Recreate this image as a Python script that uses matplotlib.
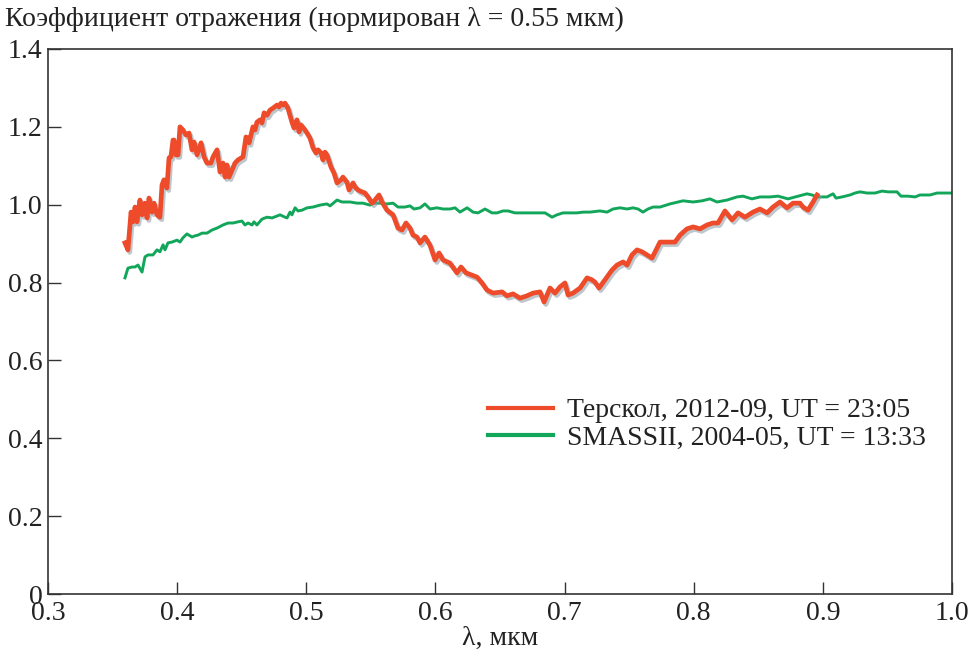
import matplotlib
matplotlib.use("Agg")
import matplotlib.pyplot as plt
import matplotlib.patheffects as pe

# Terskol 2012-09 spectrum (wavelength, reflectance)
terskol_x = [0.3596, 0.3619, 0.3643, 0.3658, 0.3674, 0.3689, 0.3712, 0.3728, 0.3751, 0.3767,
             0.3782, 0.3805, 0.3821, 0.3844, 0.3867, 0.3883, 0.3898, 0.3921, 0.3937, 0.3952,
             0.3968, 0.3976, 0.3991, 0.4007, 0.4022, 0.4045, 0.4069, 0.4092, 0.4115, 0.4131,
             0.4154, 0.4185, 0.4208, 0.4231, 0.4262, 0.4278, 0.4309, 0.4332, 0.4355, 0.4371,
             0.4386, 0.4402, 0.4425, 0.4448, 0.4471, 0.4510, 0.4533, 0.4549, 0.4557, 0.4587,
             0.4603, 0.4618, 0.4642, 0.4657, 0.4673, 0.4696, 0.4719, 0.4742, 0.4773, 0.4789,
             0.4804, 0.4820, 0.4835, 0.4858, 0.4889, 0.4905, 0.4928, 0.4944, 0.4959, 0.4990,
             0.5006, 0.5029, 0.5052, 0.5075, 0.5091, 0.5114, 0.5129, 0.5145, 0.5160, 0.5191,
             0.5215, 0.5238, 0.5269, 0.5284, 0.5315, 0.5331, 0.5362, 0.5377, 0.5400, 0.5431,
             0.5455, 0.5478, 0.5509, 0.5532, 0.5563, 0.5586, 0.5625, 0.5672, 0.5710, 0.5741,
             0.5772, 0.5803, 0.5826, 0.5857, 0.5881, 0.5919, 0.5958, 0.5997, 0.6028, 0.6059,
             0.6113, 0.6167, 0.6198, 0.6237, 0.6283, 0.6322, 0.6361, 0.6399, 0.6446, 0.6516,
             0.6554, 0.6601, 0.6655, 0.6709, 0.6756, 0.6810, 0.6841, 0.6887, 0.6926, 0.6965,
             0.7003, 0.7027, 0.7065, 0.7120, 0.7174, 0.7212, 0.7236, 0.7267, 0.7313, 0.7367,
             0.7406, 0.7453, 0.7484, 0.7522, 0.7561, 0.7600, 0.7638, 0.7677, 0.7739, 0.7793,
             0.7855, 0.7894, 0.7948, 0.7995, 0.8049, 0.8103, 0.8149, 0.8188, 0.8242, 0.8297,
             0.8343, 0.8397, 0.8459, 0.8513, 0.8568, 0.8614, 0.8668, 0.8722, 0.8769, 0.8823,
             0.8846, 0.8885, 0.8924, 0.8955]
terskol_y = [0.902, 0.884, 0.981, 0.956, 0.994, 0.956, 1.012, 0.974, 1.004, 0.966,
             1.017, 0.981, 1.004, 0.974, 0.968, 1.051, 1.064, 1.043, 1.120, 1.123,
             1.166, 1.166, 1.128, 1.128, 1.200, 1.192, 1.179, 1.184, 1.141, 1.161,
             1.128, 1.159, 1.123, 1.107, 1.107, 1.123, 1.141, 1.084, 1.107, 1.071,
             1.102, 1.071, 1.089, 1.107, 1.115, 1.123, 1.174, 1.171, 1.159, 1.200,
             1.192, 1.212, 1.218, 1.210, 1.236, 1.230, 1.243, 1.248, 1.256, 1.251,
             1.261, 1.256, 1.261, 1.248, 1.212, 1.197, 1.218, 1.187, 1.205, 1.192,
             1.184, 1.171, 1.146, 1.133, 1.141, 1.133, 1.115, 1.135, 1.128, 1.097,
             1.081, 1.056, 1.064, 1.071, 1.058, 1.038, 1.056, 1.046, 1.038, 1.033,
             1.030, 1.020, 1.004, 1.012, 1.025, 1.007, 0.986, 0.974, 0.940, 0.935,
             0.953, 0.940, 0.922, 0.917, 0.902, 0.917, 0.896, 0.858, 0.876, 0.858,
             0.850, 0.825, 0.840, 0.825, 0.819, 0.814, 0.799, 0.781, 0.773, 0.776,
             0.766, 0.771, 0.760, 0.766, 0.773, 0.776, 0.750, 0.786, 0.773, 0.789,
             0.799, 0.768, 0.773, 0.786, 0.812, 0.807, 0.801, 0.786, 0.807, 0.832,
             0.845, 0.853, 0.845, 0.871, 0.884, 0.879, 0.871, 0.863, 0.904, 0.904,
             0.904, 0.922, 0.938, 0.943, 0.938, 0.948, 0.953, 0.953, 0.984, 0.961,
             0.979, 0.968, 0.981, 0.989, 0.979, 0.994, 1.007, 0.992, 1.004, 1.004,
             0.994, 0.986, 1.007, 1.025]

# SMASSII 2004-05 spectrum
smass_x = [0.3596, 0.3619, 0.3650, 0.3674, 0.3697, 0.3728, 0.3751, 0.3774, 0.3813, 0.3844,
           0.3867, 0.3891, 0.3906, 0.3929, 0.3960, 0.3999, 0.4022, 0.4045, 0.4076, 0.4115,
           0.4138, 0.4162, 0.4193, 0.4231, 0.4270, 0.4309, 0.4355, 0.4394, 0.4433, 0.4471,
           0.4502, 0.4525, 0.4549, 0.4580, 0.4595, 0.4618, 0.4657, 0.4696, 0.4735, 0.4773,
           0.4797, 0.4835, 0.4851, 0.4874, 0.4889, 0.4913, 0.4936, 0.4967, 0.5006, 0.5052,
           0.5106, 0.5160, 0.5184, 0.5238, 0.5277, 0.5339, 0.5393, 0.5439, 0.5493, 0.5517,
           0.5571, 0.5625, 0.5672, 0.5710, 0.5764, 0.5803, 0.5834, 0.5881, 0.5919, 0.5958,
           0.6012, 0.6059, 0.6113, 0.6152, 0.6190, 0.6245, 0.6291, 0.6330, 0.6384, 0.6438,
           0.6477, 0.6523, 0.6562, 0.6616, 0.6655, 0.6709, 0.6756, 0.6810, 0.6849, 0.6903,
           0.6941, 0.6988, 0.7042, 0.7096, 0.7143, 0.7197, 0.7274, 0.7329, 0.7375, 0.7429,
           0.7484, 0.7530, 0.7569, 0.7607, 0.7646, 0.7685, 0.7739, 0.7816, 0.7917, 0.7995,
           0.8064, 0.8126, 0.8180, 0.8258, 0.8335, 0.8382, 0.8451, 0.8513, 0.8591, 0.8653,
           0.8730, 0.8808, 0.8877, 0.8916, 0.8955, 0.9032, 0.9079, 0.9102, 0.9148, 0.9210,
           0.9249, 0.9288, 0.9342, 0.9404, 0.9458, 0.9505, 0.9574, 0.9605, 0.9659, 0.9714,
           0.9752, 0.9830, 0.9884, 0.9985, 1.0000]
smass_y = [0.812, 0.837, 0.840, 0.840, 0.845, 0.827, 0.866, 0.871, 0.871, 0.884,
           0.879, 0.897, 0.884, 0.902, 0.904, 0.909, 0.904, 0.915, 0.925, 0.917,
           0.920, 0.922, 0.927, 0.927, 0.935, 0.940, 0.948, 0.953, 0.953, 0.956,
           0.958, 0.948, 0.953, 0.948, 0.956, 0.948, 0.963, 0.968, 0.966, 0.971,
           0.974, 0.968, 0.966, 0.981, 0.974, 0.992, 0.984, 0.986, 0.992, 0.994,
           0.999, 1.002, 0.997, 1.012, 1.007, 1.007, 1.004, 1.004, 0.999, 1.004,
           1.004, 1.002, 1.004, 0.994, 0.994, 0.997, 0.989, 0.992, 1.002, 0.989,
           0.992, 0.989, 0.989, 0.992, 0.981, 0.992, 0.981, 0.979, 0.989, 0.979,
           0.979, 0.984, 0.984, 0.979, 0.979, 0.979, 0.979, 0.979, 0.979, 0.968,
           0.974, 0.979, 0.979, 0.979, 0.981, 0.981, 0.984, 0.981, 0.989, 0.992,
           0.989, 0.992, 0.989, 0.981, 0.989, 0.994, 0.994, 1.002, 1.010, 1.007,
           1.010, 1.015, 1.007, 1.012, 1.020, 1.022, 1.015, 1.020, 1.020, 1.022,
           1.015, 1.022, 1.028, 1.025, 1.020, 1.020, 1.028, 1.017, 1.020, 1.025,
           1.030, 1.033, 1.030, 1.030, 1.035, 1.033, 1.033, 1.022, 1.022, 1.020,
           1.025, 1.025, 1.030, 1.030, 1.030]

x_ticks = [0.3, 0.4, 0.5, 0.6, 0.7, 0.8, 0.9, 1.0]
x_ticklabels = ["0.3", "0.4", "0.5", "0.6", "0.7", "0.8", "0.9", "1.0"]
y_ticks = [0, 0.2, 0.4, 0.6, 0.8, 1.0, 1.2, 1.4]
y_ticklabels = ["0", "0.2", "0.4", "0.6", "0.8", "1.0", "1.2", "1.4"]

label_terskol = "Терскол, 2012-09, UT = 23:05"
label_smass = "SMASSII, 2004-05, UT = 13:33"
title_text = "Коэффициент отражения (нормирован λ = 0.55 мкм)"
xlabel_text = "λ, мкм"

plt.rcParams['font.family'] = ['Liberation Serif', 'DejaVu Serif']
FS = 20

RED = "#EE4B2B"
GREEN = "#12A65A"
AXC = "#333333"
TXT = "#222222"

fig = plt.figure(figsize=(9.72, 6.54), dpi=100)
ax = fig.add_axes([48/972, 60/654, 904/972, 545/654])

ax.plot(terskol_x, terskol_y, color=RED, lw=3.4, solid_joinstyle='round',
        label=label_terskol, zorder=3,
        path_effects=[pe.SimpleLineShadow(offset=(1.3, -1.8), shadow_color='#8a9aa4', alpha=0.55),
                      pe.Normal()])
ax.plot(smass_x, smass_y, color=GREEN, lw=2.1, label=label_smass, zorder=2)

ax.set_xlim(0.3, 1.0)
ax.set_ylim(0, 1.4)
ax.set_xticks(x_ticks)
ax.set_xticklabels(x_ticklabels)
ax.set_yticks(y_ticks)
ax.set_yticklabels(y_ticklabels)
ax.tick_params(direction='in', length=9, width=1.0, color=AXC, labelsize=FS,
               labelcolor=TXT)
ax.tick_params(axis='y', pad=4)
ax.tick_params(axis='x', pad=5)
for s in ax.spines.values():
    s.set_color(AXC)
    s.set_linewidth(1.2)

ax.set_xlabel(xlabel_text, fontsize=FS, color=TXT, labelpad=0)
fig.text(5/972, 1 - 19/654, title_text, fontsize=FS, color=TXT,
         ha='left', va='center')

leg = ax.legend(loc='upper left', bbox_to_anchor=((488-48)/904, (594-398)/545),
                frameon=False, fontsize=FS, handlelength=2.35, handletextpad=0.5,
                labelspacing=0.08, borderpad=0, borderaxespad=0)
for t in leg.get_texts():
    t.set_color(TXT)
for h in leg.get_lines():
    h.set_path_effects([])
    h.set_linewidth(3.0)

fig.savefig("out.png", dpi=100)
